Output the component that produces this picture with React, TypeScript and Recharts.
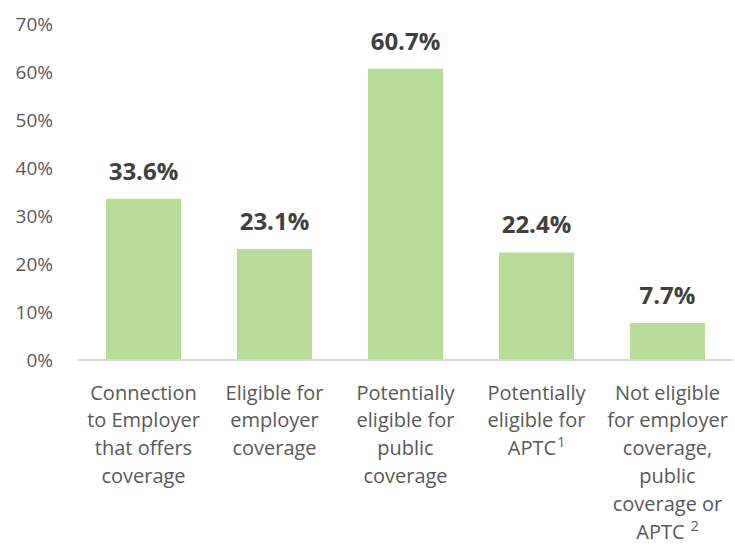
import React from 'react';
import { BarChart, Bar, XAxis, YAxis, LabelList } from 'recharts';

const categories = [
  'Connection\nto Employer\nthat offers\ncoverage',
  'Eligible for\nemployer\ncoverage',
  'Potentially\neligible for\npublic\ncoverage',
  'Potentially\neligible for\nAPTC',
  'Not eligible\nfor employer\ncoverage,\npublic\ncoverage or\nAPTC',
];
const footnotes = ['', '', '', '1', '2'];
const shares = [33.6, 23.1, 60.7, 22.4, 7.7];
const yTicks = [0, 10, 20, 30, 40, 50, 60, 70];

const data = categories.map((name, i) => ({ name, note: footnotes[i], value: shares[i] }));

const FONT = '"Open Sans", sans-serif';

const CategoryTick = (props: any) => {
  const { x, y, payload, index } = props;
  const lines: string[] = String(payload.value).split('\n');
  const note = footnotes[index] || '';
  return (
    <text x={x} y={y} textAnchor="middle" fill="#595959" fontSize={20} fontFamily={FONT}>
      {lines.map((line, i) => (
        <tspan key={i} x={x} y={y + 39.5 + i * 27.9}>
          {line}
          {i === lines.length - 1 && note ? (
            <tspan fontSize={14} dx={index === 4 ? 6 : 1} dy={-8}>
              {note}
            </tspan>
          ) : null}
        </tspan>
      ))}
    </text>
  );
};

export default function App() {
  return (
    <div style={{ position: 'absolute', left: 0, top: 0, background: '#fff' }}>
      <BarChart
        width={735}
        height={547}
        data={data}
        margin={{ top: 24, right: 2, bottom: 0, left: 8 }}
      >
        <XAxis
          dataKey="name"
          interval={0}
          height={187}
          tickSize={0}
          tickMargin={0}
          axisLine={{ stroke: '#d9d9d9', strokeWidth: 2 }}
          tickLine={false}
          tick={<CategoryTick />}
        />
        <YAxis
          width={70}
          domain={[0, 70]}
          ticks={yTicks}
          tickFormatter={(v: number) => `${v}%`}
          axisLine={false}
          tickLine={false}
          tickSize={0}
          tickMargin={25}
          tick={{ fill: '#595959', fontSize: 19, fontFamily: FONT }}
        />
        <Bar dataKey="value" fill="#b7dc98" barSize={75} isAnimationActive={false}>
          <LabelList
            dataKey="value"
            position="top"
            offset={19}
            formatter={(v: any) => `${Number(v).toFixed(1)}%`}
            fill="#404040"
            fontSize={24}
            fontWeight="bold"
            fontFamily={FONT}
          />
        </Bar>
      </BarChart>
    </div>
  );
}
